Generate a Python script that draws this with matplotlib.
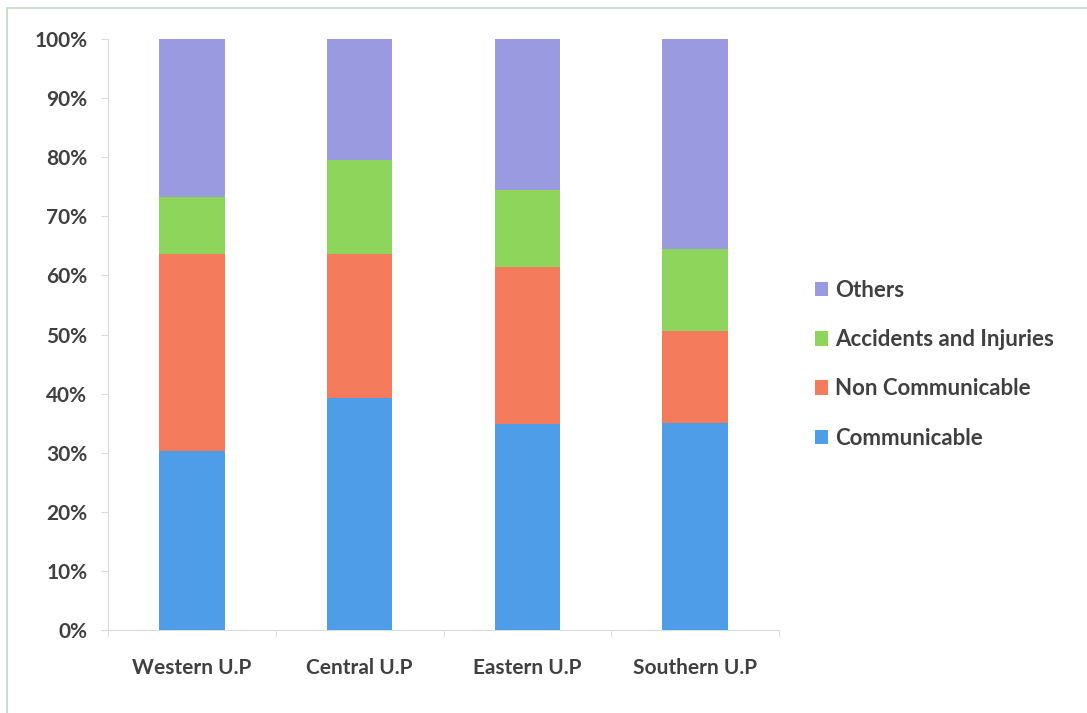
import numpy as np
import matplotlib
matplotlib.use("Agg")
import matplotlib.pyplot as plt
from matplotlib.patches import Rectangle
from matplotlib.ticker import PercentFormatter

regions = ["Western U.P", "Central U.P", "Eastern U.P", "Southern U.P"]

# share of deaths by cause in each region (%)
communicable = [30.3, 39.3, 34.9, 35.0]
non_communicable = [33.3, 24.4, 26.5, 15.6]
accidents = [9.7, 15.9, 13.0, 13.9]
others = [26.7, 20.4, 25.6, 35.5]

series = [
    ("Communicable", communicable, "#4d9de8"),
    ("Non Communicable", non_communicable, "#f47b5b"),
    ("Accidents and Injuries", accidents, "#8dd65b"),
    ("Others", others, "#9a9ae0"),
]

plt.rcParams["font.family"] = ["Lato", "DejaVu Sans"]
text_color = "#404040"

fig = plt.figure(figsize=(10.87, 7.13), dpi=100)
ax = fig.add_axes([0.0994, 0.1164, 0.6173, 0.8289])

x = np.arange(len(regions))
bottom = np.zeros(len(regions))
handles = []
for name, vals, color in series:
    vals = np.array(vals)
    b = ax.bar(x, vals, 0.39, bottom=bottom, color=color, label=name)
    handles.append(b)
    bottom += vals

ax.set_xlim(-0.5, len(regions) - 0.5)
ax.set_ylim(0, 100)
ax.set_yticks(np.arange(0, 101, 10))
ax.yaxis.set_major_formatter(PercentFormatter(decimals=0))
ax.set_xticks(x)
ax.set_xticklabels(regions)
ax.set_xticks(np.arange(-0.5, len(regions), 1), minor=True)

for s in ["top", "right"]:
    ax.spines[s].set_visible(False)
for s in ["left", "bottom"]:
    ax.spines[s].set_color("#d8dcd8")
ax.tick_params(axis="y", length=5, color="#d8dcd8", labelsize=15,
               labelcolor=text_color, pad=10)
ax.tick_params(axis="x", which="major", length=0, labelsize=15,
               labelcolor=text_color, pad=20)
ax.tick_params(axis="x", which="minor", length=5, color="#d8dcd8")
for lab in ax.get_xticklabels() + ax.get_yticklabels():
    lab.set_fontweight("bold")

leg = fig.legend(handles[::-1], [s[0] for s in series][::-1],
                 loc="center left", bbox_to_anchor=(0.731, 0.489),
                 frameon=False, fontsize=16, handlelength=0.62,
                 handleheight=0.62, handletextpad=0.3, labelspacing=1.27)
for t in leg.get_texts():
    t.set_color(text_color)
    t.set_fontweight("bold")

# thin chart-area border
fig.patches.append(Rectangle((0.0065, -0.01), 1.0, 0.999, transform=fig.transFigure,
                             fill=False, edgecolor="#c5d6c8", linewidth=1.2))

fig.savefig("out.png", dpi=100)
